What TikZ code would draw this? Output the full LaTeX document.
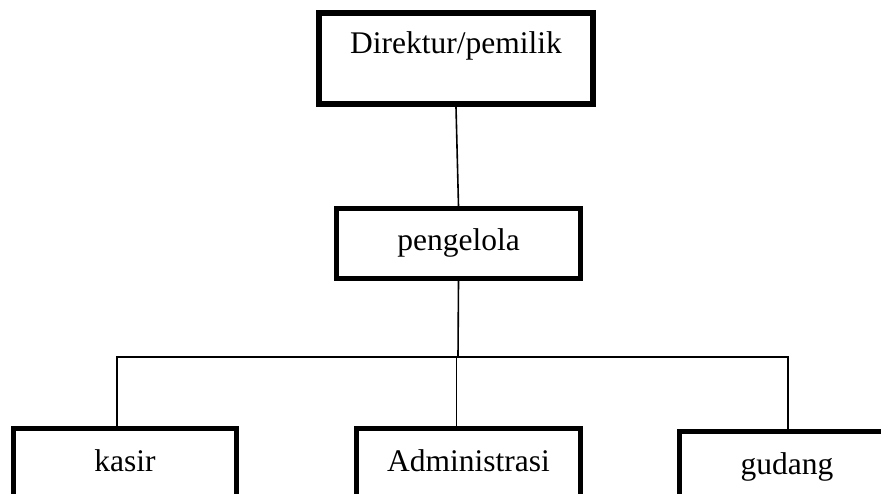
\documentclass[tikz,border=0pt]{standalone}
\usepackage{fontspec}
\setmainfont{Liberation Serif}

\begin{document}
\begin{tikzpicture}[x=1pt,y=-1pt,
    kotak/.style={draw,line width=5pt,inner sep=0pt,text height=22pt,text depth=7pt,
      minimum height=70pt,font=\fontsize{31.5}{38}\selectfont},
    garis/.style={line width=1.6pt}]
      \useasboundingbox (0,0) rectangle (881,494);
      \node [kotak,line width=6pt,minimum width=274pt,minimum height=91pt,text depth=31pt] (1) at (456,58.5) {Direktur/pemilik};
      \node [kotak,minimum width=244pt] (2) at (458.5,243.5) {pengelola};
      \node [kotak,anchor=north,minimum width=223pt] (3) at (125,426) {kasir};
      \node [kotak,anchor=north,minimum width=224pt] (4) at (468.5,426) {Administrasi};
      \node [kotak,anchor=north,minimum width=215pt] (5) at (787,429) {gudang};
      \coordinate (c) at (458,357);

      \draw[garis] (1.south) -- (2.north);
      \draw[garis] (2.south) -- (c);
      \draw[garis] ([xshift=-8pt]3.north) |- (c) -| ([xshift=1pt]5.north);
      \draw[garis] ([xshift=-12pt]4.north) -- ([xshift=-12pt]4.north |- c);
    \end{tikzpicture}
\end{document}
